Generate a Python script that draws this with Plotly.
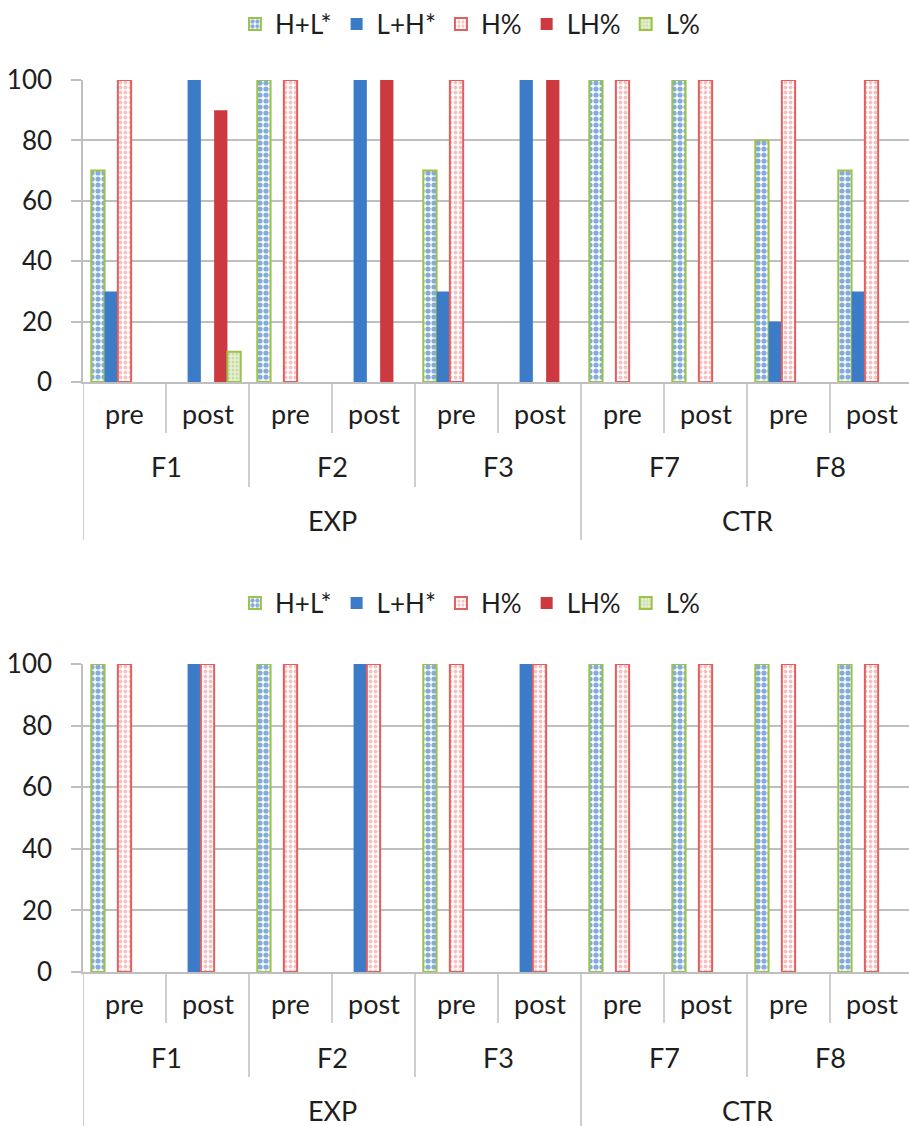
import plotly.graph_objects as go

# ---- data -------------------------------------------------------------
factors = ["F1", "F2", "F3", "F7", "F8"]
phases = ["pre", "post"]
conditions = ["EXP", "CTR"]
condition_factors = {"EXP": ["F1", "F2", "F3"], "CTR": ["F7", "F8"]}

series = ["H+L*", "L+H*", "H%", "LH%", "L%"]

# one value per (factor, phase): F1 pre, F1 post, F2 pre, ... F8 post
top_values = {
    "H+L*": [70, 0, 100, 0, 70, 0, 100, 100, 80, 70],
    "L+H*": [30, 100, 0, 100, 30, 100, 0, 0, 20, 30],
    "H%":   [100, 0, 100, 0, 100, 0, 100, 100, 100, 100],
    "LH%":  [0, 90, 0, 100, 0, 100, 0, 0, 0, 0],
    "L%":   [0, 10, 0, 0, 0, 0, 0, 0, 0, 0],
}
bottom_values = {
    "H+L*": [100, 0, 100, 0, 100, 0, 100, 100, 100, 100],
    "L+H*": [0, 100, 0, 100, 0, 100, 0, 0, 0, 0],
    "H%":   [100, 100, 100, 100, 100, 100, 100, 100, 100, 100],
    "LH%":  [0, 0, 0, 0, 0, 0, 0, 0, 0, 0],
    "L%":   [0, 0, 0, 0, 0, 0, 0, 0, 0, 0],
}
y_ticks = [0, 20, 40, 60, 80, 100]

# ---- styling ----------------------------------------------------------
W, H = 909, 1126
FONT = "Lato"
TXT = "#1E1E1E"
GRID = "#BFBFBF"

BLUE = "#3B7BC8"
RED = "#CC3A40"
GREEN = "#9BC34A"

styles = {
    "H+L*": dict(color="white", line=dict(color=GREEN, width=2),
                 pattern=dict(shape=".", fgcolor="#0A58B8", bgcolor="white",
                              size=6, solidity=0.6, fillmode="overlay")),
    "L+H*": dict(color=BLUE, line=dict(width=0)),
    "H%": dict(color="white", line=dict(color="#E06060", width=2),
               pattern=dict(shape=".", fgcolor="#EC8484", bgcolor="white",
                            size=5, solidity=0.45, fillmode="overlay")),
    "LH%": dict(color=RED, line=dict(width=0)),
    "L%": dict(color="#DCE8C4", line=dict(color=GREEN, width=2),
               pattern=dict(shape=".", fgcolor="#AFCB77", bgcolor="#E6EFD3",
                            size=4, solidity=0.45, fillmode="overlay")),
}

categories = [f"{f} {p}" for f in factors for p in phases]


def py(px):
    """pixel row (from top) -> paper coordinate"""
    return 1 - px / H


def drawn(vals):
    # empty slots keep their place in the group but draw nothing
    return [v if v else None for v in vals]


X_LEFT = 83
CAT_W = 83
x_domain = [X_LEFT / W, 1.0]
x_range = [-0.5, -0.5 + (W - X_LEFT) / CAT_W]

panels = [
    # (values, x axis, y axis, legend, pixel top (100), pixel bottom (0), legend centre)
    (top_values, "x", "y", "legend", 80, 382, 24),
    (bottom_values, "x2", "y2", "legend2", 664, 972, 603),
]

fig = go.Figure()
shapes = []
annotations = []
LABEL_FONT = dict(family=FONT, size=27, color=TXT)

for values, xa, ya, leg, top_px, bot_px, leg_px in panels:
    for s in series:
        fig.add_trace(go.Bar(
            x=categories, y=drawn(values[s]), name=s,
            xaxis=xa, yaxis=ya, legend=leg,
            marker=styles[s], hoverinfo="skip",
        ))

    # category labels: phase / factor / condition
    for i, cat in enumerate(categories):
        annotations.append(dict(
            x=i, y=py(bot_px + 31), xref=xa, yref="paper",
            text=phases[i % 2], showarrow=False, yanchor="middle",
            font=LABEL_FONT))
    for k, f in enumerate(factors):
        annotations.append(dict(
            x=2 * k + 0.5, y=py(bot_px + 85), xref=xa, yref="paper",
            text=f, showarrow=False, yanchor="middle", font=LABEL_FONT))
    start = 0
    for c in conditions:
        n = 2 * len(condition_factors[c])
        annotations.append(dict(
            x=start + (n - 1) / 2, y=py(bot_px + 138), xref=xa, yref="paper",
            text=c, showarrow=False, yanchor="middle", font=LABEL_FONT))
        start += n

    # divider lines below the axis
    cond_edges = [-0.5]
    acc = 0
    for c in conditions:
        acc += 2 * len(condition_factors[c])
        cond_edges.append(acc - 0.5)
    for j in range(len(categories)):
        edge = j - 0.5
        if edge in cond_edges:
            depth = 158
        elif j % 2 == 0:
            depth = 105
        else:
            depth = 51
        shapes.append(dict(
            type="line", xref=xa, yref="paper",
            x0=edge, x1=edge, y0=py(bot_px), y1=py(bot_px + depth),
            line=dict(color=GRID, width=1.5)))

    fig.layout[leg] = dict(
        orientation="h", x=0.517, xanchor="center",
        y=py(leg_px), yanchor="middle",
        font=dict(family=FONT, size=26, color=TXT),
        bgcolor="rgba(0,0,0,0)", itemclick=False, itemdoubleclick=False,
    )

    xname = "xaxis" if xa == "x" else "xaxis2"
    yname = "yaxis" if ya == "y" else "yaxis2"
    fig.layout[xname] = dict(
        domain=x_domain, range=x_range, type="category",
        categoryorder="array", categoryarray=categories,
        showticklabels=False, ticks="", showgrid=False,
        showline=True, linecolor=GRID, linewidth=1.5,
        anchor=ya, zeroline=False, fixedrange=True,
    )
    fig.layout[yname] = dict(
        domain=[py(bot_px), py(top_px)], range=[0, 100],
        tickvals=y_ticks, ticks="outside", ticklen=10,
        tickcolor=GRID, tickwidth=1.5, ticklabelstandoff=14,
        showgrid=True, gridcolor=GRID, gridwidth=1.5,
        showline=True, linecolor=GRID, linewidth=1.5,
        zeroline=False, anchor=xa,
        tickfont=dict(family=FONT, size=26, color=TXT),
        fixedrange=True,
    )

fig.update_layout(
    width=W, height=H,
    margin=dict(l=0, r=0, t=0, b=0, autoexpand=False),
    paper_bgcolor="white", plot_bgcolor="white",
    barmode="group", bargap=0.2, bargroupgap=0.0,
    shapes=shapes, annotations=annotations,
    showlegend=True,
)

fig.write_html("out.html", config={"displayModeBar": False})
